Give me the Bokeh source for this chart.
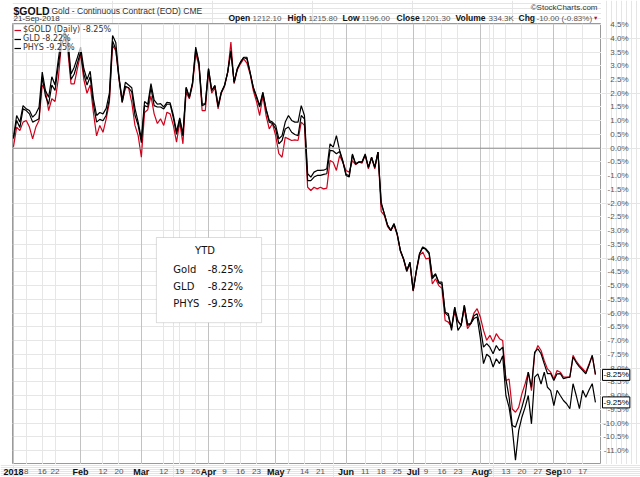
import numpy as np
import pandas as pd
from bokeh.plotting import figure
from bokeh.layouts import column, row
from bokeh.models import (Range1d, FixedTicker, Grid, Span, Label, BoxAnnotation,
                          Legend, LegendItem)
from bokeh.core.properties import value
from bokeh.embed import file_html
from bokeh.resources import INLINE

# ---------------- data (YTD % change, one value per trading day) ----------------
holidays = ["2018-01-01", "2018-01-15", "2018-02-19", "2018-03-30",
            "2018-05-28", "2018-07-04", "2018-09-03"]

gold = [0.05, 0.77, 0.64, 0.95, 1.01, 0.77, 0.34, 0.77, 1.01, 2.30,
        2.10, 1.37, 1.80, 1.70, 2.50, 3.80, 4.00, 3.55, 2.34, 2.34,
        2.90, 3.43, 2.50, 2.00, 2.30, 1.30, 0.45, 0.83, 0.58, 1.07,
        1.67, 3.74, 3.55, 2.52, 1.67, 2.20, 2.20, 1.67, 0.83, 0.46,
        -0.33, 1.30, 1.40, 1.90, 1.25, 0.90, 1.07, 0.83, 1.31, 1.25,
        0.83, 0.22, 0.95, 0.16, 2.04, 1.80, 2.30, 3.45, 3.00, 1.37,
        1.37, 2.80, 2.00, 2.20, 1.43, 2.00, 2.25, 2.75, 3.86, 2.35,
        2.85, 3.07, 3.25, 3.10, 2.70, 2.10, 1.70, 1.19, 1.90, 1.19,
        0.70, 0.90, 0.46, -0.20, -0.33, 0.40, 0.34, 0.28, 0.30, 0.28,
        0.95, 0.83, -1.42, -1.54, -1.42, -1.48, -1.42, -1.48, -1.45, -0.45,
        -0.51, -0.81, -0.27, -0.51, -0.81, -0.87, -0.45, -0.60, -0.50, -0.55,
        -0.25, -0.75, -0.33, -0.75, -0.14, -2.30, -2.45, -2.85, -3.00, -2.80,
        -3.15, -3.75, -4.05, -4.50, -4.20, -5.20, -4.50, -3.90, -3.78, -4.03,
        -4.00, -4.94, -4.75, -5.00, -5.10, -6.27, -6.33, -6.51, -5.96, -6.27,
        -6.45, -5.84, -6.57, -6.39, -6.00, -5.84, -6.14, -6.63, -6.99, -6.81,
        -7.05, -6.75, -6.93, -7.00, -8.46, -8.40, -9.49, -9.61, -9.43, -8.94,
        -8.58, -8.15, -8.82, -7.49, -7.18, -7.36, -7.73, -8.03, -8.15, -8.40,
        -8.09, -8.15, -8.33, -8.33, -8.33, -7.54, -7.75, -7.90, -8.02, -8.15,
        -7.85, -7.54, -8.25]

gld = [0.35, 1.01, 0.75, 1.43, 1.37, 1.25, 0.95, 1.01, 1.07, 2.60,
       1.90, 1.60, 2.30, 2.10, 3.00, 3.75, 4.05, 3.80, 2.50, 2.70,
       3.10, 3.50, 2.70, 2.30, 2.60, 1.60, 0.95, 1.05, 1.00, 1.20,
       1.80, 3.90, 3.60, 2.55, 1.67, 2.25, 2.20, 2.05, 1.20, 0.83,
       0.20, 1.55, 1.50, 2.20, 1.55, 1.50, 1.50, 1.43, 1.60, 1.60,
       1.10, 0.50, 1.05, 0.45, 2.20, 1.85, 2.35, 3.60, 3.10, 1.55,
       1.60, 2.89, 2.10, 2.28, 1.50, 2.04, 2.28, 2.77, 3.55, 2.40,
       2.89, 3.13, 3.30, 3.25, 2.75, 2.20, 1.85, 1.50, 2.00, 1.40,
       0.95, 0.90, 0.70, 0.16, 0.28, 0.70, 0.77, 0.58, 0.50, 0.46,
       1.19, 1.07, -1.18, -1.18, -1.05, -0.99, -0.99, -0.95, -0.93, -0.08,
       -0.10, -0.20, -0.12, -0.50, -0.95, -1.00, -0.25, -0.57, -0.50, -0.50,
       -0.25, -0.70, -0.35, -0.70, -0.14, -2.03, -2.39, -2.80, -2.99, -2.75,
       -3.12, -3.72, -4.03, -4.45, -4.15, -5.18, -4.45, -3.84, -3.60, -3.70,
       -3.85, -4.75, -4.60, -4.90, -4.95, -6.00, -6.10, -6.55, -5.79, -6.30,
       -6.45, -5.72, -6.39, -6.39, -6.10, -6.02, -6.50, -7.24, -7.11, -7.24,
       -7.48, -7.18, -7.36, -7.24, -8.40, -9.06, -10.09, -10.15, -9.79, -9.43,
       -9.00, -8.15, -8.70, -7.42, -7.30, -7.48, -7.85, -8.20, -8.20, -8.45,
       -8.21, -8.20, -8.39, -8.35, -8.33, -7.60, -7.80, -7.96, -8.08, -8.21,
       -7.90, -7.54, -8.22]

phys = [0.40, 1.19, 0.95, 1.55, 1.43, 1.37, 1.13, 1.25, 1.49, 2.77,
        2.10, 1.85, 2.60, 2.30, 3.20, 4.04, 4.22, 4.00, 2.70, 2.95,
        3.30, 3.68, 2.90, 2.50, 2.80, 1.80, 1.19, 1.30, 1.25, 1.45,
        2.00, 4.10, 3.85, 2.60, 1.75, 2.40, 2.30, 2.20, 1.45, 0.95,
        0.34, 1.70, 1.60, 2.35, 1.75, 1.60, 1.62, 1.50, 1.67, 1.65,
        1.20, 0.60, 1.10, 0.50, 2.22, 1.86, 2.40, 3.68, 3.13, 1.60,
        1.62, 2.90, 2.10, 2.28, 1.55, 2.04, 2.28, 2.77, 3.50, 2.40,
        2.89, 3.13, 3.31, 3.31, 2.77, 2.22, 1.90, 1.55, 2.04, 1.43,
        1.01, 0.95, 0.83, 0.34, 0.46, 0.95, 1.19, 1.01, 0.95, 0.95,
        1.55, 1.19, -0.93, -1.05, -0.87, -0.81, -0.81, -0.80, -0.75, 0.16,
        0.04, 0.46, -0.08, -0.45, -0.99, -1.05, -0.21, -0.57, -0.51, -0.50,
        -0.21, -0.69, -0.33, -0.69, -0.14, -1.96, -2.39, -2.81, -2.99, -2.75,
        -3.12, -3.72, -4.03, -4.45, -4.15, -5.18, -4.45, -3.84, -3.60, -3.66,
        -3.80, -4.69, -4.57, -4.87, -4.87, -5.97, -6.02, -6.63, -5.78, -6.63,
        -6.45, -5.72, -6.45, -6.39, -6.20, -6.14, -6.90, -7.84, -7.50, -7.60,
        -7.96, -7.66, -7.84, -7.55, -9.00, -9.43, -10.20, -11.35, -10.28, -9.79,
        -9.43, -9.00, -10.03, -8.33, -8.21, -8.58, -8.15, -8.70, -8.82, -9.37,
        -8.81, -9.00, -9.18, -9.30, -9.48, -8.57, -9.00, -9.48, -8.81, -9.06,
        -8.80, -8.57, -9.25]

month_tick_dates = ["2018-01-02", "2018-02-01", "2018-03-01", "2018-04-02", "2018-05-01",
                    "2018-06-01", "2018-07-02", "2018-08-01", "2018-09-04"]
month_tick_labels = ["2018", "Feb", "Mar", "Apr", "May", "Jun", "Jul", "Aug", "Sep"]
day_tick_dates = ["2018-01-08", "2018-01-16", "2018-01-22", "2018-02-12", "2018-02-20",
                  "2018-03-12", "2018-03-19", "2018-03-26", "2018-04-09", "2018-04-16",
                  "2018-04-23", "2018-05-07", "2018-05-14", "2018-05-21", "2018-06-11",
                  "2018-06-18", "2018-06-25", "2018-07-09", "2018-07-16", "2018-07-23",
                  "2018-08-06", "2018-08-13", "2018-08-20", "2018-08-27", "2018-09-10",
                  "2018-09-17"]
y_ticks = [4.5, 4.0, 3.5, 3.0, 2.5, 2.0, 1.5, 1.0, 0.5, 0.0, -0.5, -1.0, -1.5, -2.0,
           -2.5, -3.0, -3.5, -4.0, -4.5, -5.0, -5.5, -6.0, -6.5, -7.0, -7.5, -8.0,
           -8.5, -9.0, -9.5, -10.0, -10.5, -11.0]

legend_labels = ["$GOLD (Daily) -8.25%", "GLD -8.22%", "PHYS -9.25%"]
ytd_names = ["Gold", "GLD", "PHYS"]
ytd_values = ["-8.25%", "-8.22%", "-9.25%"]

header_fields = [("Open", "1212.10"), ("High", "1215.80"), ("Low", "1196.00"),
                 ("Close", "1201.30"), ("Volume", "334.3K"), ("Chg", "-10.00 (-0.83%)")]

# ---------------- positions ----------------
sessions = pd.bdate_range("2018-01-02", "2018-09-21", freq="C", holidays=holidays)
pos = {d: i for i, d in enumerate(sessions)}
month_ticks = [pos[pd.Timestamp(d)] for d in month_tick_dates]
day_ticks = [pos[pd.Timestamp(d)] for d in day_tick_dates]
day_labels = [str(int(d[-2:])) for d in day_tick_dates]
x = list(range(len(gold)))

FONT = "Liberation Sans"
W, H = 640, 477
HEAD_H, FOOT_H = 23, 13
LEFT, RIGHT = 12, 39
MAIN_H = H - HEAD_H - FOOT_H
FRAME_W = W - LEFT - RIGHT

X0, X1 = -0.3, 183.9
Y0, Y1 = -11.51, 4.538
xr = Range1d(X0, X1)
yr = Range1d(Y0, Y1)
ppu_y = MAIN_H / (Y1 - Y0)
ppu_x = FRAME_W / (X1 - X0)


def strip(width, height, x_range, y_range, left=0):
    f = figure(width=width, height=height, x_range=x_range, y_range=y_range,
               output_backend="svg", toolbar_location=None,
               x_axis_location=None, y_axis_location=None, min_border=0,
               min_border_left=left)
    f.outline_line_color = None
    f.background_fill_color = "white"
    f.border_fill_color = "white"
    return f


# ---------------- header (frame aligned with the plot frame: x is page x - 12) ----------------
head = strip(W - RIGHT, HEAD_H, Range1d(0, FRAME_W), Range1d(0, HEAD_H), left=LEFT)


def hdr(px, yy, txt, size, bold=False, color="#222222", align="left"):
    head.add_layout(Label(x=px - LEFT, y=yy, x_units="screen", y_units="screen", text=txt,
                          text_align=align, text_baseline="middle", text_font=FONT,
                          text_font_size=size,
                          text_font_style="bold" if bold else "normal",
                          text_color=color))


hdr(13, 13, "$GOLD", "10.5px", bold=True, color="#111111")
hdr(51, 13, "Gold - Continuous Contract (EOD) CME", "8.5px", color="#333333")
hdr(597, 16, "\u00a9StockCharts.com", "8px", color="#333333", align="right")
hdr(13, 5.5, "21-Sep-2018", "8px", color="#333333")
field_x = [228, 287, 342, 396, 455, 518]
value_x = [252, 308, 361, 421, 488, 536]
for (lab, val), lx, vx in zip(header_fields, field_x, value_x):
    hdr(lx, 5.5, lab, "8.5px", bold=True, color="#111111")
    hdr(vx, 5.5, val, "8px", color="#555555")
hdr(598, 6, "\u25bc", "5.5px", color="#d0021b", align="right")

# ---------------- main plot ----------------
p = figure(width=W - RIGHT, height=MAIN_H, x_range=xr, y_range=yr,
           output_backend="svg", toolbar_location=None,
           x_axis_location=None, y_axis_location=None,
           min_border_left=LEFT, min_border_right=0, min_border_top=0,
           min_border_bottom=0)
p.background_fill_color = "white"
p.border_fill_color = "white"
p.outline_line_color = "#9a9a9a"

p.add_layout(Grid(dimension=1, ticker=FixedTicker(ticks=y_ticks), grid_line_color="#e6e6e6"))
p.add_layout(Grid(dimension=0, ticker=FixedTicker(ticks=day_ticks), grid_line_color="#e6e6e6"))
p.add_layout(Grid(dimension=0, ticker=FixedTicker(ticks=month_ticks), grid_line_color="#c2c2c2"))
p.add_layout(Span(location=0, dimension="width", line_color="#8c8c8c", line_width=1))

r_gold = p.line(x, gold, line_color="#d0021b", line_width=1.2)
r_gld = p.line(x, gld, line_color="#000000", line_width=1.2)
r_phys = p.line(x, phys, line_color="#000000", line_width=1.2)

legend = Legend(items=[LegendItem(label=legend_labels[0], renderers=[r_gold]),
                       LegendItem(label=legend_labels[1], renderers=[r_gld]),
                       LegendItem(label=legend_labels[2], renderers=[r_phys])],
                location="top_left", margin=2, padding=1, spacing=-1,
                label_text_font="DejaVu Sans", label_text_font_size="8px",
                label_text_color="#333333", glyph_width=7, glyph_height=6,
                label_height=6, label_standoff=2, border_line_color=None,
                background_fill_alpha=0.7, label_text_line_height=0.6)
p.add_layout(legend)

# YTD box
p.add_layout(BoxAnnotation(left=44.7, right=77.6, top=-3.25, bottom=-6.35,
                           fill_color="white", fill_alpha=1.0,
                           line_color="#8a8a8a", line_width=1))
p.add_layout(Label(x=59.9, y=-3.72, text="YTD", text_align="center", text_baseline="middle",
                   text_font="DejaVu Sans", text_font_size="10px", text_color="#111111"))
for nm, vl, yy in zip(ytd_names, ytd_values, [-4.41, -5.03, -5.65]):
    p.add_layout(Label(x=50.0, y=yy, text=nm, text_align="left", text_baseline="middle",
                       text_font="DejaVu Sans", text_font_size="10px", text_color="#111111"))
    p.add_layout(Label(x=71.8, y=yy, text=vl, text_align="right", text_baseline="middle",
                       text_font="DejaVu Sans", text_font_size="10px", text_color="#111111"))

# ---------------- right value axis (spans header + plot height) ----------------
rs = strip(RIGHT, HEAD_H + MAIN_H, Range1d(0, RIGHT), Range1d(Y0, Y1 + HEAD_H / ppu_y))
rs.text(x=[27] * len(y_ticks), y=y_ticks, text=[f"{v:.1f}%" for v in y_ticks],
        text_align="right", text_baseline="middle", text_font=value(FONT),
        text_font_size="8px", text_color="#555555")
for val, txt in [(gold[-1], ytd_values[0]), (phys[-1], ytd_values[2])]:
    rs.add_layout(Label(x=1, x_units="screen", y=val, text=txt, text_align="left",
                        text_baseline="middle", text_font=FONT, text_font_size="8px",
                        text_color="#000000", background_fill_color="white",
                        border_line_color="#000000", padding=1))

# ---------------- footer (date axis labels) ----------------
foot = strip(W, FOOT_H, Range1d(X0 - LEFT / ppu_x, X1 + RIGHT / ppu_x), Range1d(0, FOOT_H))
foot.text(x=day_ticks, y=[6] * len(day_ticks), text=day_labels, text_align="center",
          text_baseline="middle", text_font=value(FONT), text_font_size="8px",
          text_color="#555555")
foot.text(x=month_ticks, y=[6] * len(month_ticks), text=month_tick_labels,
          text_align="center", text_baseline="middle", text_font=value(FONT),
          text_font_size="9px", text_font_style="bold", text_color="#111111")

layout = column(row(column(head, p), rs), foot)
open("out.html", "w").write(file_html(layout, INLINE))
